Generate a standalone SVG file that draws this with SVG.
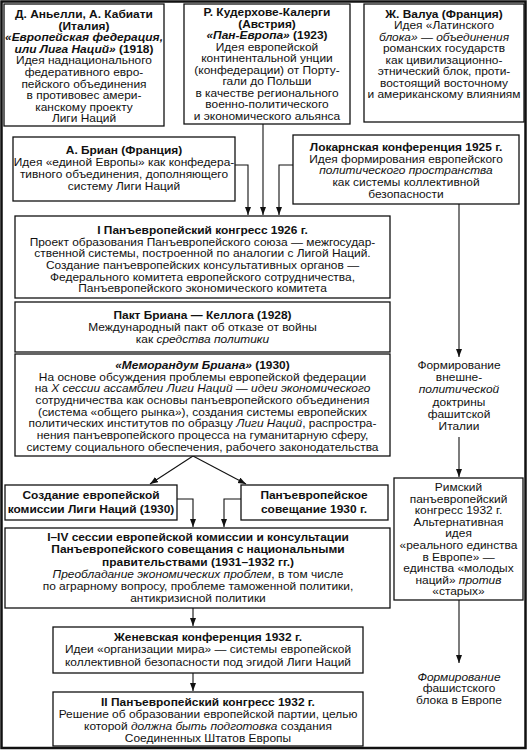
<svg xmlns="http://www.w3.org/2000/svg" width="528" height="752" viewBox="0 0 528 752">
<style>
text{font-family:"Liberation Sans",Arial,sans-serif;font-size:10.2px;fill:#111;text-anchor:middle}
.t{font-weight:bold}
.i{font-style:italic}
.b{fill:#fff;stroke:#111;stroke-width:1.3}
.c{fill:none;stroke:#111;stroke-width:1.1}
</style>
<defs>
<marker id="ar" markerUnits="userSpaceOnUse" markerWidth="8" markerHeight="8" refX="8" refY="3" orient="auto">
<path d="M0,0 L8,3 L0,6 z" fill="#111"/>
</marker>
</defs>
<rect x="0" y="0" width="528" height="752" fill="#fff"/>
<rect x="1.5" y="1.5" width="524" height="746.5" fill="none" stroke="#111" stroke-width="2.5"/>

<g id="connectors">
<path class="c" d="M235,165 H248 V215" marker-end="url(#ar)"/>
<path class="c" d="M263,124 V215" marker-end="url(#ar)"/>
<path class="c" d="M293,165 H279 V215" marker-end="url(#ar)"/>
<path class="c" d="M459,204 V357" marker-end="url(#ar)"/>
<path class="c" d="M193,456 L150,484" marker-end="url(#ar)"/>
<path class="c" d="M193,456 L246,484" marker-end="url(#ar)"/>
<path class="c" d="M177,499 H193 V527" marker-end="url(#ar)"/>
<path class="c" d="M241,499 H224 V527" marker-end="url(#ar)"/>
<path class="c" d="M193,608 V626" marker-end="url(#ar)"/>
<path class="c" d="M193,673 V691" marker-end="url(#ar)"/>
<path class="c" d="M459,437 V477" marker-end="url(#ar)"/>
<path class="c" d="M459,600 V663" marker-end="url(#ar)"/>
</g>

<g id="anelli">
<rect class="b" x="4" y="4" width="160" height="122"/>
<g transform="matrix(1.17,0,0,1,-14.28,0)">
<text class="t" x="84" y="18">Д. Аньелли, А. Кабиати</text>
<text class="t" x="84" y="29.6">(Италия)</text>
<text class="t i" x="84" y="41.2">«Европейская федерация,</text>
<text class="t" x="84" y="52.8"><tspan class="i">или Лига Наций»</tspan> (1918)</text>
<text x="84" y="64.4">Идея наднационального</text>
<text x="84" y="76">федеративного евро-</text>
<text x="84" y="87.6">пейского объединения</text>
<text x="84" y="99.2">в противовес амери-</text>
<text x="84" y="110.8">канскому проекту</text>
<text x="84" y="122.4">Лиги Наций</text>
</g>
</g>

<g id="kudenhove">
<rect class="b" x="184" y="4" width="166" height="120"/>
<g transform="matrix(1.17,0,0,1,-45.39,0)">
<text class="t" x="267" y="16.5">Р. Кудерхове-Калерги</text>
<text class="t" x="267" y="28">(Австрия)</text>
<text class="t" x="267" y="39.5"><tspan class="i">«Пан-Европа»</tspan> (1923)</text>
<text x="267" y="51">Идея европейской</text>
<text x="267" y="62.5">континентальной унции</text>
<text x="267" y="74">(конфедерации) от Порту-</text>
<text x="267" y="85.5">гали до Польши</text>
<text x="267" y="97">в качестве регионального</text>
<text x="267" y="108.5">военно-политического</text>
<text x="267" y="120">и экономического альянса</text>
</g>
</g>

<g id="valois">
<rect class="b" x="364" y="4" width="160" height="118"/>
<g transform="matrix(1.17,0,0,1,-75.48,0)">
<text class="t" x="444" y="18">Ж. Валуа (Франция)</text>
<text x="444" y="29.5">Идея «Латинского</text>
<text x="444" y="41"><tspan class="i">блока»</tspan> — <tspan class="i">объединения</tspan></text>
<text x="444" y="52.5">романских государств</text>
<text x="444" y="64">как цивилизационно-</text>
<text x="444" y="75.5">этнический блок, проти-</text>
<text x="444" y="87">востоящий восточному</text>
<text x="444" y="98.5">и американскому влияниям</text>
</g>
</g>

<g id="briand">
<rect class="b" x="13" y="137" width="222" height="64"/>
<g transform="matrix(1.17,0,0,1,-21.08,0)">
<text class="t" x="124" y="154">А. Бриан (Франция)</text>
<text x="124" y="166">Идея «единой Европы» как конфедера-</text>
<text x="124" y="178">тивного объединения, дополняющего</text>
<text x="124" y="190">систему Лиги Наций</text>
</g>
</g>

<g id="locarno">
<rect class="b" x="293" y="135" width="226" height="69"/>
<g transform="matrix(1.17,0,0,1,-69.02,0)">
<text class="t" x="406" y="151">Локарнская конференция 1925 г.</text>
<text x="406" y="162.7">Идея формирования европейского</text>
<text class="i" x="406" y="174.4">политического пространства</text>
<text x="406" y="186.1">как системы коллективной</text>
<text x="406" y="197.8">безопасности</text>
</g>
</g>

<g id="congress1">
<rect class="b" x="15" y="216" width="375" height="82"/>
<g transform="matrix(1.17,0,0,1,-34.425,0)">
<text class="t" x="202.5" y="234">I Панъевропейский конгресс 1926 г.</text>
<text x="202.5" y="245.7">Проект образования Панъевропейского союза — межгосудар-</text>
<text x="202.5" y="257.4">ственной системы, построенной по аналогии с Лигой Наций.</text>
<text x="202.5" y="269.1">Создание панъевропейских консультативных органов —</text>
<text x="202.5" y="280.8">Федерального комитета европейского сотрудничества,</text>
<text x="202.5" y="292.5">Панъевропейского экономического комитета</text>
</g>
</g>

<g id="kellogg">
<rect class="b" x="15" y="302" width="375" height="50"/>
<g transform="matrix(1.17,0,0,1,-34.425,0)">
<text class="t" x="202.5" y="319">Пакт Бриана — Келлога (1928)</text>
<text x="202.5" y="331">Международный пакт об отказе от войны</text>
<text x="202.5" y="343">как <tspan class="i">средства политики</tspan></text>
</g>
</g>

<g id="memorandum">
<rect class="b" x="15" y="354" width="375" height="102"/>
<g transform="matrix(1.17,0,0,1,-34.425,0)">
<text class="t" x="202.5" y="369"><tspan class="i">«Меморандум Бриана»</tspan> (1930)</text>
<text x="202.5" y="380.7">На основе обсуждения проблемы европейской федерации</text>
<text x="202.5" y="392.4">на <tspan class="i">X сессии ассамблеи Лиги Наций — идеи экономического</tspan></text>
<text x="202.5" y="404.1">сотрудничества как основы панъевропейского объединения</text>
<text x="202.5" y="415.8">(система «общего рынка»), создания системы европейских</text>
<text x="202.5" y="427.5">политических институтов по образцу <tspan class="i">Лиги Наций</tspan>, распростра-</text>
<text x="202.5" y="439.2">нения панъевропейского процесса на гуманитарную сферу,</text>
<text x="202.5" y="450.9">систему социального обеспечения, рабочего законодательства</text>
</g>
</g>

<g id="commission">
<rect class="b" x="5" y="485" width="172" height="35"/>
<g transform="matrix(1.17,0,0,1,-15.47,0)">
<text class="t" x="91" y="499">Создание европейской</text>
<text class="t" x="91" y="513">комиссии Лиги Наций (1930)</text>
</g>
</g>

<g id="meeting">
<rect class="b" x="241" y="485" width="147" height="35"/>
<g transform="matrix(1.17,0,0,1,-53.38,0)">
<text class="t" x="314" y="499">Панъевропейское</text>
<text class="t" x="314" y="513">совещание 1930 г.</text>
</g>
</g>

<g id="sessions">
<rect class="b" x="5" y="528" width="385" height="80"/>
<g transform="matrix(1.17,0,0,1,-33.66,0)">
<text class="t" x="198" y="541">I–IV сессии европейской комиссии и консультации</text>
<text class="t" x="198" y="553.5">Панъевропейского совещания с национальными</text>
<text class="t" x="198" y="566">правительствами (1931–1932 гг.)</text>
<text x="198" y="578"><tspan class="i">Преобладание экономических проблем</tspan>, в том числе</text>
<text x="198" y="590">по аграрному вопросу, проблеме таможенной политики,</text>
<text x="198" y="602">антикризисной политики</text>
</g>
</g>

<g id="geneva">
<rect class="b" x="53" y="627" width="310" height="46"/>
<g transform="matrix(1.17,0,0,1,-35.36,0)">
<text class="t" x="208" y="641">Женевская конференция 1932 г.</text>
<text x="208" y="653.5">Идеи «организации мира» — системы европейской</text>
<text x="208" y="666">коллективной безопасности под эгидой Лиги Наций</text>
</g>
</g>

<g id="congress2">
<rect class="b" x="53" y="692" width="310" height="54"/>
<g transform="matrix(1.17,0,0,1,-35.36,0)">
<text class="t" x="208" y="706">II Панъевропейский конгресс 1932 г.</text>
<text x="208" y="718.5">Решение об образовании европейской партии, целью</text>
<text x="208" y="730.5">которой <tspan class="i">должна быть подготовка</tspan> создания</text>
<text x="208" y="742.5">Соединенных Штатов Европы</text>
</g>
</g>

<g id="doctrine">
<g transform="matrix(1.17,0,0,1,-78.03,0)">
<text x="459" y="369">Формирование</text>
<text x="459" y="381.2">внешне-</text>
<text class="i" x="459" y="393.4">политической</text>
<text x="459" y="405.6">доктрины</text>
<text x="459" y="417.8">фашитской</text>
<text x="459" y="430">Италии</text>
</g>
</g>

<g id="rome">
<rect class="b" x="394" y="478" width="129" height="122"/>
<g transform="matrix(1.17,0,0,1,-77.945,0)">
<text x="458.5" y="491">Римский</text>
<text x="458.5" y="502.6">панъевропейский</text>
<text x="458.5" y="514.2">конгресс 1932 г.</text>
<text x="458.5" y="525.8">Альтернативная</text>
<text x="458.5" y="537.4">идея</text>
<text x="458.5" y="549">«реального единства</text>
<text x="458.5" y="560.6">в Европе» —</text>
<text x="458.5" y="572.2">единства «молодых</text>
<text x="458.5" y="583.8">наций» <tspan class="i">против</tspan></text>
<text x="458.5" y="595.4">«старых»</text>
</g>
</g>

<g id="bloc">
<g transform="matrix(1.17,0,0,1,-78.03,0)">
<text class="i" x="459" y="681">Формирование</text>
<text x="459" y="692.5">фашистского</text>
<text x="459" y="704">блока в Европе</text>
</g>
</g>
</svg>
